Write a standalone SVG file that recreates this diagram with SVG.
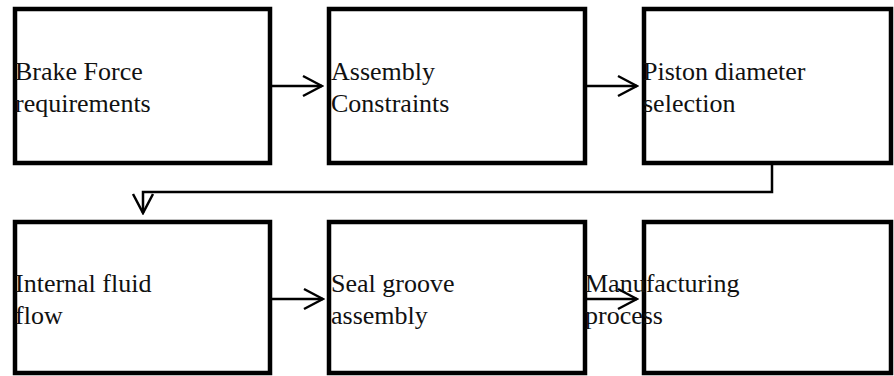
<svg xmlns="http://www.w3.org/2000/svg" width="894" height="376" viewBox="0 0 894 376">
<style>
.box{fill:#fff;stroke:#000;stroke-width:4.5}
.lbl{font-family:"Liberation Serif","Times New Roman",serif;font-size:26px;fill:#111}
.con{fill:none;stroke:#000;stroke-width:2.5}
</style>
<defs>
<marker id="arr" markerWidth="24" markerHeight="24" viewBox="-22 -12 24 24" refX="0" refY="0" orient="auto" markerUnits="userSpaceOnUse">
<path d="M-19,-10 L0,0 L-19,10" fill="none" stroke="#000" stroke-width="2.5"/>
</marker>
</defs>
<rect width="894" height="376" fill="#fff"/>
<g id="n1"><rect class="box" x="15" y="9" width="255" height="154"/><text class="lbl" x="15" y="80">Brake Force</text><text class="lbl" x="15" y="112">requirements</text></g>
<g id="n2"><rect class="box" x="329" y="9" width="256" height="154"/><text class="lbl" x="331" y="80">Assembly</text><text class="lbl" x="331" y="112">Constraints</text></g>
<g id="n3"><rect class="box" x="644" y="9" width="247" height="154"/><text class="lbl" x="643" y="80">Piston diameter</text><text class="lbl" x="643" y="112">selection</text></g>
<g id="n4"><rect class="box" x="15" y="222" width="255" height="151"/><text class="lbl" x="15" y="292">Internal fluid</text><text class="lbl" x="15" y="324">flow</text></g>
<g id="n5"><rect class="box" x="329" y="222" width="256" height="151"/><text class="lbl" x="331" y="292">Seal groove</text><text class="lbl" x="331" y="324">assembly</text></g>
<g id="n6"><rect class="box" x="644" y="222" width="247" height="151"/><text class="lbl" x="585" y="292">Manufacturing</text><text class="lbl" x="585" y="324">process</text></g>
<g id="connectors">
<path class="con" d="M272,86 L322,86" marker-end="url(#arr)"/>
<path class="con" d="M587,86 L637,86" marker-end="url(#arr)"/>
<path class="con" d="M772,165 L772,192 L143,192 L143,213" marker-end="url(#arr)"/>
<path class="con" d="M272,299 L323,299" marker-end="url(#arr)"/>
<path class="con" d="M587,299 L637,299" marker-end="url(#arr)"/>
</g>
</svg>
